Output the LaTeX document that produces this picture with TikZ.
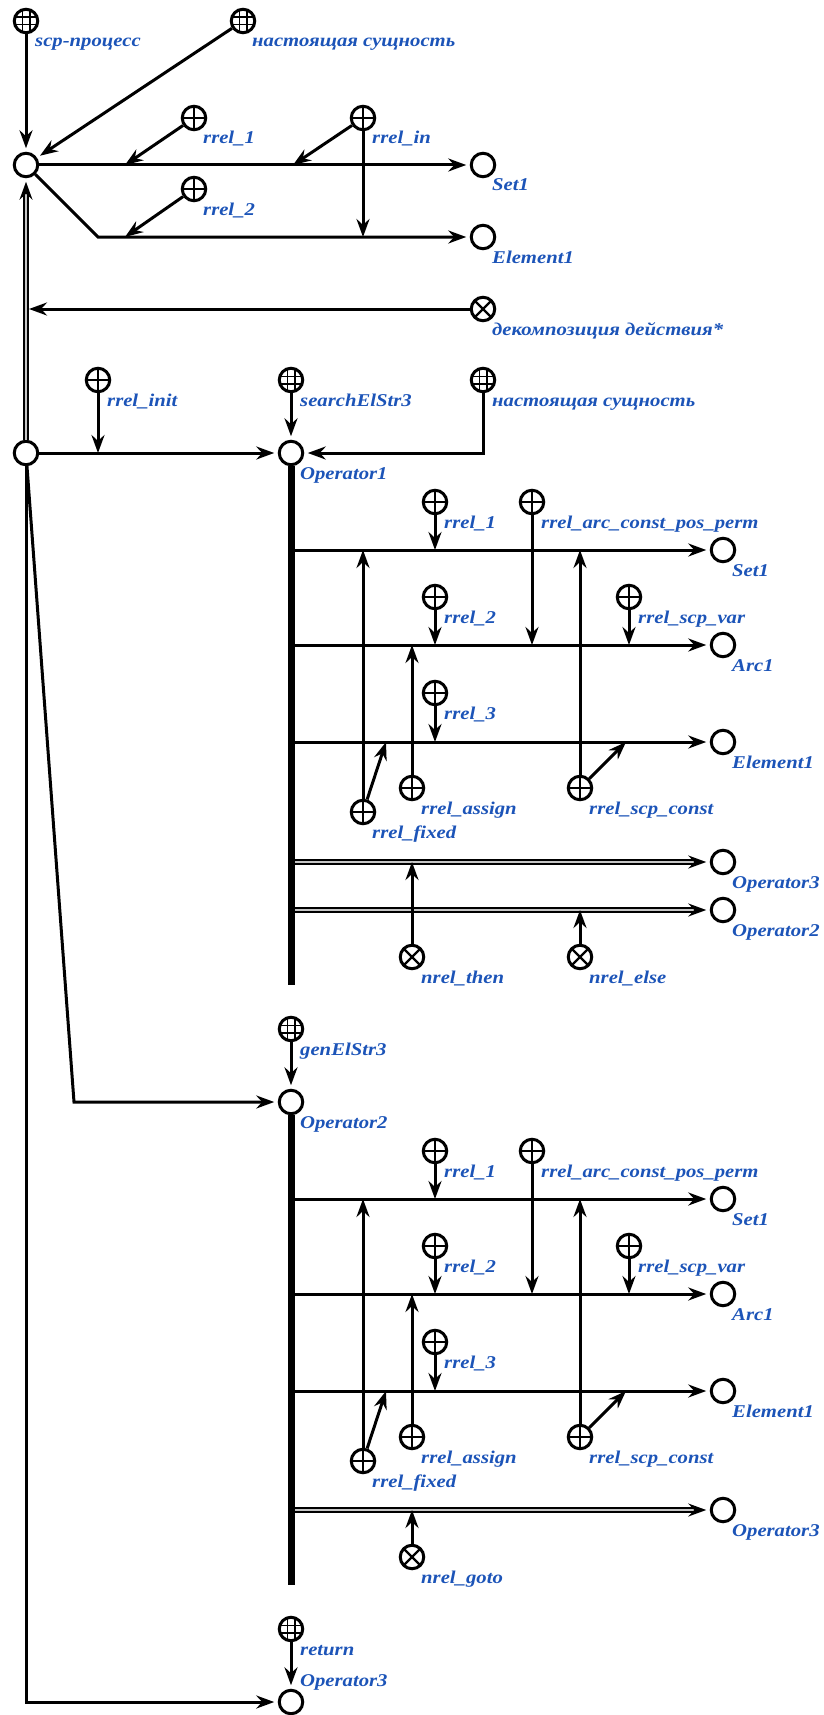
\documentclass[tikz,border=0pt]{standalone}
\usepackage{fontspec}
\setmainfont{Liberation Serif}
\newfontfamily\tagfont[FakeStretch=1.15]{Liberation Serif}
\usetikzlibrary{arrows.meta,positioning}
\definecolor{tagblue}{RGB}{28,84,184}
\tikzset{
  elem/.style  ={circle,draw,line width=3pt,minimum size=23.5pt,inner sep=0pt,fill=white},
  plain/.style ={elem},
  role/.style  ={elem,path picture={
      \draw[line width=2.4pt] (path picture bounding box.north) -- (path picture bounding box.south)
            (path picture bounding box.west) -- (path picture bounding box.east);}},
  nrole/.style ={elem,path picture={
      \draw[line width=2.4pt] (path picture bounding box.north west) -- (path picture bounding box.south east)
            (path picture bounding box.south west) -- (path picture bounding box.north east);}},
  cls/.style   ={elem,path picture={
      \foreach \d in {-3.7pt,3.7pt}{
        \draw[line width=1.6pt] ([xshift=\d]path picture bounding box.north) -- ([xshift=\d]path picture bounding box.south)
              ([yshift=\d]path picture bounding box.west) -- ([yshift=\d]path picture bounding box.east);}}},
  tag/.style   ={font=\fontsize{18}{20}\selectfont\tagfont\bfseries\itshape,text=tagblue,anchor=west,
                 inner sep=0pt,text height=12pt,text depth=4pt},
  attr/.style  ={line width=3pt,-{Stealth[length=18pt,width=13pt,inset=6pt]}},
  arc/.style   ={attr,shorten >=3.5pt},
  pair/.style  ={line width=1.7pt,double=gray!45,double distance=2.8pt,
                 -{Stealth[length=18pt,width=13pt,inset=6pt]},shorten >=3.5pt},
  bus/.style   ={line width=7pt},
}
\newcommand{\sclabel}[2]{\node[tag] (#1L) at ([shift={(9,22)}]#1.center) {#2};}

\begin{document}
\begin{tikzpicture}[x=1pt,y=-1pt]
\useasboundingbox (0,0) rectangle (824,1715);
% process and its decomposition
\node[cls] (scp) at (26,21) {}; \sclabel{scp}{scp-процесс}
\node[cls] (nsA) at (243,21) {}; \sclabel{nsA}{настоящая сущность}
\node[plain] (proc) at (26,165) {};
\node[role] (rr1) at (194,118) {}; \sclabel{rr1}{rrel\_1}
\node[role] (rrin) at (363,118) {}; \sclabel{rrin}{rrel\_in}
\node[plain] (set0) at (483,165) {}; \sclabel{set0}{Set1}
\node[role] (rr2) at (194,189) {}; \sclabel{rr2}{rrel\_2}
\node[plain] (elm0) at (483,237) {}; \sclabel{elm0}{Element1}
\node[nrole] (dec) at (483,309) {}; \sclabel{dec}{декомпозиция действия*}
\node[role] (rinit) at (98,380) {}; \sclabel{rinit}{rrel\_init}
\node[cls] (srch) at (291,380) {}; \sclabel{srch}{searchElStr3}
\node[cls] (nsB) at (483,380) {}; \sclabel{nsB}{настоящая сущность}
\node[plain] (proc2) at (26,453) {};
\node[plain] (op1) at (291,453) {}; \sclabel{op1}{Operator1}
\coordinate (c1) at (125,165); \coordinate (c2) at (293,165);
\coordinate (c3) at (98,237); \coordinate (c4) at (125,237);
\coordinate (bendB) at (74,1102);
\draw[arc] (scp) -- (proc); \draw[arc] (nsA) -- (proc);
\draw[arc] (proc) -- (set0); \draw[arc] (proc) -- (c3) -- (elm0);
\draw[attr] (rr1) -- (c1); \draw[attr] (rrin) -- (c2);
\draw[attr] (rrin) -- (rrin |- elm0); \draw[attr] (rr2) -- (c4);
\draw[pair] (proc2) -- (proc);
\draw[attr,shorten >=3pt] (dec) -- (proc |- dec);
\draw[arc] (proc2) -- (op1); \draw[attr] (rinit) -- (rinit |- op1);
\draw[arc] (srch) -- (op1); \draw[arc] (nsB) |- (op1);
% Operator1
\node[role] (s1r1) at (435,502) {}; \sclabel{s1r1}{rrel\_1}
\node[role] (s1arc) at (532,502) {}; \sclabel{s1arc}{rrel\_arc\_const\_pos\_perm}
\node[plain] (set1) at (723,550) {}; \sclabel{set1}{Set1}
\node[role] (s1r2) at (435,597) {}; \sclabel{s1r2}{rrel\_2}
\node[role] (s1var) at (629,597) {}; \sclabel{s1var}{rrel\_scp\_var}
\node[plain] (arc1) at (723,645) {}; \sclabel{arc1}{Arc1}
\node[role] (s1r3) at (435,693) {}; \sclabel{s1r3}{rrel\_3}
\node[plain] (elm1) at (723,742) {}; \sclabel{elm1}{Element1}
\node[role] (s1fix) at (363,812) {}; \sclabel{s1fix}{rrel\_fixed}
\node[role] (s1asg) at (412,788) {}; \sclabel{s1asg}{rrel\_assign}
\node[role] (s1cst) at (580,788) {}; \sclabel{s1cst}{rrel\_scp\_const}
\node[plain] (op3a) at (723,862) {}; \sclabel{op3a}{Operator3}
\node[plain] (op2a) at (723,910) {}; \sclabel{op2a}{Operator2}
\node[nrole] (nthen) at (412,957) {}; \sclabel{nthen}{nrel\_then}
\node[nrole] (nelse) at (580,957) {}; \sclabel{nelse}{nrel\_else}
\coordinate (fx1) at (386,742); \coordinate (cx1) at (626,742);
\coordinate (b1end) at (291,985);
\draw[arc] (op1 |- set1) -- (set1); \draw[arc] (op1 |- arc1) -- (arc1);
\draw[arc] (op1 |- elm1) -- (elm1);
\draw[pair] (op1 |- op3a) -- (op3a); \draw[pair] (op1 |- op2a) -- (op2a);
\draw[attr] (s1r1) -- (s1r1 |- set1); \draw[attr] (s1arc) -- (s1arc |- arc1);
\draw[attr] (s1r2) -- (s1r2 |- arc1); \draw[attr] (s1var) -- (s1var |- arc1);
\draw[attr] (s1r3) -- (s1r3 |- elm1);
\draw[attr] (s1fix) -- (s1fix |- set1); \draw[attr] (s1fix) -- (fx1);
\draw[attr] (s1asg) -- (s1asg |- arc1);
\draw[attr] (s1cst) -- (s1cst |- set1); \draw[attr] (s1cst) -- (cx1);
\draw[attr] (nthen) -- (nthen |- op3a); \draw[attr] (nelse) -- (nelse |- op2a);
\draw[bus] (op1) -- (b1end);
% Operator2
\node[cls] (gen) at (291,1029) {}; \sclabel{gen}{genElStr3}
\node[plain] (op2) at (291,1102) {}; \sclabel{op2}{Operator2}
\node[role] (s2r1) at (435,1151) {}; \sclabel{s2r1}{rrel\_1}
\node[role] (s2arc) at (532,1151) {}; \sclabel{s2arc}{rrel\_arc\_const\_pos\_perm}
\node[plain] (set2) at (723,1199) {}; \sclabel{set2}{Set1}
\node[role] (s2r2) at (435,1246) {}; \sclabel{s2r2}{rrel\_2}
\node[role] (s2var) at (629,1246) {}; \sclabel{s2var}{rrel\_scp\_var}
\node[plain] (arc2) at (723,1294) {}; \sclabel{arc2}{Arc1}
\node[role] (s2r3) at (435,1342) {}; \sclabel{s2r3}{rrel\_3}
\node[plain] (elm2) at (723,1391) {}; \sclabel{elm2}{Element1}
\node[role] (s2fix) at (363,1461) {}; \sclabel{s2fix}{rrel\_fixed}
\node[role] (s2asg) at (412,1437) {}; \sclabel{s2asg}{rrel\_assign}
\node[role] (s2cst) at (580,1437) {}; \sclabel{s2cst}{rrel\_scp\_const}
\node[plain] (op3b) at (723,1510) {}; \sclabel{op3b}{Operator3}
\node[nrole] (ngoto) at (412,1557) {}; \sclabel{ngoto}{nrel\_goto}
\coordinate (fx2) at (386,1391); \coordinate (cx2) at (626,1391);
\coordinate (b2end) at (291,1585);
\draw[arc] (proc2) -- (bendB) -- (op2); \draw[arc] (gen) -- (op2);
\draw[arc] (op2 |- set2) -- (set2); \draw[arc] (op2 |- arc2) -- (arc2);
\draw[arc] (op2 |- elm2) -- (elm2);
\draw[pair] (op2 |- op3b) -- (op3b);
\draw[attr] (s2r1) -- (s2r1 |- set2); \draw[attr] (s2arc) -- (s2arc |- arc2);
\draw[attr] (s2r2) -- (s2r2 |- arc2); \draw[attr] (s2var) -- (s2var |- arc2);
\draw[attr] (s2r3) -- (s2r3 |- elm2);
\draw[attr] (s2fix) -- (s2fix |- set2); \draw[attr] (s2fix) -- (fx2);
\draw[attr] (s2asg) -- (s2asg |- arc2);
\draw[attr] (s2cst) -- (s2cst |- set2); \draw[attr] (s2cst) -- (cx2);
\draw[attr] (ngoto) -- (ngoto |- op3b);
\draw[bus] (op2) -- (b2end);
% Operator3
\node[cls] (ret) at (291,1629) {}; \sclabel{ret}{return}
\node[plain] (op3) at (291,1702) {};
\node[tag] (op3L) at ([shift={(9,-20)}]op3.center) {Operator3};
\draw[arc] (ret) -- (op3); \draw[arc] (proc2) |- (op3);
\end{tikzpicture}
\end{document}
